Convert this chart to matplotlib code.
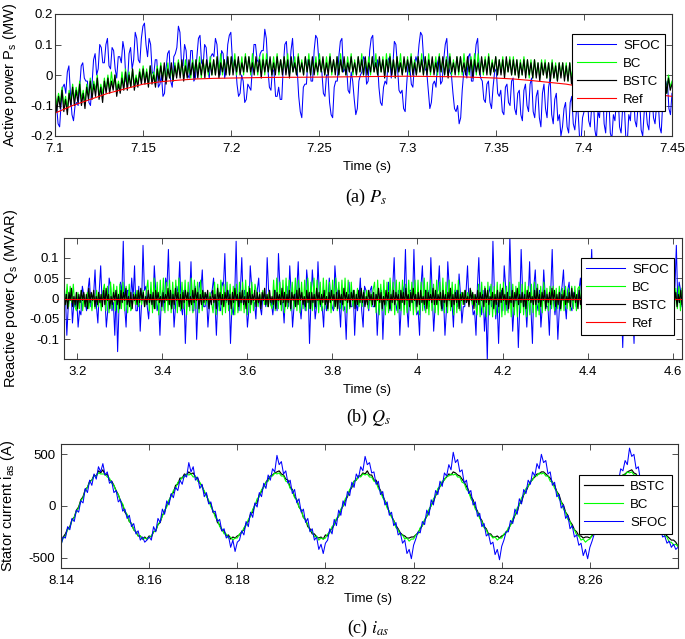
import numpy as np
import matplotlib
matplotlib.use('Agg')
import matplotlib.pyplot as plt

plt.rcParams['font.family'] = ['Liberation Sans', 'DejaVu Sans']
plt.rcParams['mathtext.fontset'] = 'stix'

# ---------------- Panel (a): active power, values in 0.01 MW ----------------
a_sfoc = [-11,-10,-16,-17,-9,-4,-3,-6,1,3,-6,-13,-15,-10,-9,-10,-4,3,4,-1,
          -2,-2,-9,-10,-3,5,7,0,2,10,9,4,4,10,12,3,2,9,8,2,
          -1,6,6,4,11,8,-2,-3,7,9,2,5,14,12,5,4,12,16,17,10,
          6,12,10,1,0,5,5,-4,-3,0,-7,-6,2,7,8,-2,-4,6,7,9,
          16,14,4,3,10,8,0,-1,8,8,-2,-1,6,12,13,4,3,10,9,2,
          -1,6,7,6,12,10,2,0,8,7,-1,2,10,13,14,5,3,4,-3,-7,
          -6,0,-2,-9,-8,-3,-4,-5,3,10,10,5,4,7,8,8,15,12,2,-4,
          -5,2,1,-7,-7,-4,-8,-8,3,10,11,3,0,8,12,3,2,2,-7,-12,
          -14,-4,-3,-3,5,5,-2,-2,8,13,12,5,3,1,-6,-7,0,0,-9,-13,
          -14,-4,-2,-2,6,11,12,1,2,3,-5,-6,1,-2,-8,-13,-11,-2,0,1,
          6,5,-3,-2,8,12,13,3,4,5,-4,-9,-10,-4,-2,-3,5,6,-1,3,
          11,10,3,-5,-6,-5,-11,-12,-3,4,3,-3,-4,3,6,4,10,14,13,5,
          2,1,-5,-11,-9,-3,-2,-4,4,6,-3,-2,5,10,12,3,1,0,-6,-11,
          -12,-10,-16,-14,-5,1,2,-1,6,7,-2,-2,4,10,12,2,-1,-2,-8,-9,
          -3,-2,-9,-11,-4,1,2,-6,-7,-5,-12,-13,-4,-3,-9,-10,-2,-1,-11,-13,
          -6,-5,-13,-15,-5,-3,-10,-12,-3,-1,-12,-14,-7,-5,-14,-17,-6,-3,-11,-14,
          -4,-1,-13,-16,-8,-6,-15,-13,-20,-17,-11,-9,-17,-19,-9,-7,-16,-18,-12,-11,
          -20,-22,-14,-12,-7,-5,-15,-17,-10,-8,-18,-21,-12,-14,-6,-4,-16,-19,-9,-7,
          -19,-21,-13,-15,-8,-6,-17,-19,-11,-9,-20,-22,-13,-15,-7,-5,-15,-17,-10,-8,
          -18,-20,-12,-10,-16,-18,-8,-6,-14,-16,-10,-8,-17,-19,-9,-11,-4,-2,-11,-13,
          -6]
a_bc = [-5,-10,-6,-9,-4,-10,-7,-11,-5,-9,
        -3,-8,-4,-7,-2,-8,-5,-9,-3,-7,
        -1,-6,-2,-5,0,-7,-3,-6,-1,-5,
        0,-5,1,-4,0,-5,-2,-5,1,-4,
        2,-3,1,-4,2,-3,0,-3,2,-2,
        3,-2,2,-3,3,-2,1,-3,3,-1,
        4,-1,3,-2,4,-1,2,-2,4,0,
        5,0,4,-1,5,0,3,-1,5,1,
        5,0,6,-1,5,1,4,0,6,0,
        5,0,6,1,7,0,5,1,6,0,
        6,1,7,0,5,1,6,0,7,1,
        6,0,7,1,5,0,6,1,7,0,
        7,1,5,0,6,1,7,0,5,1,
        6,1,7,0,5,1,6,0,7,1,
        5,0,6,1,7,0,5,1,6,0,
        7,1,5,0,6,1,7,0,5,1,
        6,0,7,1,5,0,6,1,7,0,
        5,0,6,1,7,0,5,1,6,0,
        6,1,7,0,5,1,6,0,7,1,
        7,1,5,0,6,1,7,0,5,1,
        6,0,7,1,5,0,6,1,7,0,
        6,1,7,0,5,1,6,0,7,1,
        5,0,6,1,7,0,5,1,6,0,
        6,0,7,1,5,0,6,1,7,0,
        7,1,5,0,6,1,7,0,5,1,
        6,0,5,1,6,0,5,1,6,0,
        6,0,5,-1,5,0,6,0,5,-1,
        5,-1,5,0,4,-1,5,0,5,-1,
        4,-1,5,-1,4,-2,4,0,4,-1,
        4,-2,4,-1,3,-2,4,-1,4,-2,
        3,-2,3,-3,3,-2,3,-2,3,-3,
        3,-3,2,-3,2,-3,3,-3,2,-3,
        2,-4,2,-4,1,-3,2,-4,1,-4,
        1,-4,1,-5,1,-4,0,-5,1,-4,
        0,-5,1,-5,0,-5,0,-6,0,-4,
        -2]
a_bstc = [-6,-12,-7,-11,-5,-12,-8,-13,-6,-10,
          -4,-10,-5,-9,-3,-10,-6,-11,-4,-8,
          -2,-8,-3,-7,-1,-8,-4,-9,-2,-6,
          -1,-6,-2,-5,0,-7,-3,-6,-1,-5,
          1,-5,0,-4,2,-5,-1,-4,1,-3,
          2,-3,1,-4,3,-3,0,-4,2,-2,
          3,-2,4,-3,2,-1,4,-2,3,-1,
          4,-1,5,-2,3,-1,5,0,4,-1,
          5,-1,4,0,5,-1,5,1,4,0,
          5,0,6,-1,4,1,5,0,6,0,
          6,0,5,1,6,0,4,1,6,1,
          6,1,4,0,6,1,5,-1,5,1,
          5,1,6,0,4,0,6,1,5,0,
          6,0,5,-1,6,1,4,0,6,1,
          4,0,6,1,5,0,6,0,4,1,
          5,1,6,0,4,0,6,1,5,0,
          6,0,5,1,6,0,4,1,6,1,
          4,0,6,1,5,0,6,0,4,1,
          6,1,4,0,6,1,5,-1,5,1,
          6,0,5,-1,6,1,4,0,6,1,
          5,1,6,0,4,0,6,1,5,0,
          6,0,5,1,6,0,4,1,6,1,
          6,0,5,-1,6,1,4,0,6,1,
          6,1,4,0,6,1,5,-1,5,1,
          4,0,6,1,5,0,6,0,4,1,
          6,0,5,0,5,-1,6,1,5,0,
          5,0,5,-1,4,0,5,-1,5,0,
          4,-1,5,-1,4,-2,4,0,4,-1,
          4,-2,4,-1,3,-2,4,-1,4,-2,
          3,-2,4,-3,3,-2,3,-1,3,-3,
          3,-3,2,-3,3,-2,2,-3,3,-2,
          2,-4,2,-3,1,-4,2,-3,2,-4,
          1,-4,2,-5,1,-4,1,-4,0,-5,
          0,-5,1,-5,0,-4,-1,-5,0,-6,
          -1,-6,0,-5,-1,-6,0,-6,-1,-5,
          -3]
a_ref_t = [7.10,7.11,7.12,7.13,7.14,7.15,7.16,7.17,7.18,7.19,7.20,7.22,7.25,
           7.28,7.30,7.33,7.35,7.36,7.37,7.38,7.39,7.40,7.42,7.45]
a_ref = [-0.125,-0.10,-0.08,-0.06,-0.045,-0.03,-0.022,-0.017,-0.013,-0.011,-0.010,
         -0.008,-0.007,-0.005,-0.004,-0.006,-0.010,-0.013,-0.018,-0.024,-0.03,
         -0.04,-0.05,-0.07]

# ---------------- Panel (b): reactive power ----------------
b_sfoc = [-2,1,-9,-2,1,2,-6,-1,-2,0,-7,-3,-4,3,1,-1,-3,2,5,-2,
          0,1,7,-2,-6,2,8,-1,2,0,-7,-3,5,3,-3,-1,-9,2,-13,-2,
          4,1,14,-2,-7,2,2,-1,5,0,8,-3,-3,3,-8,-1,13,2,3,-2,
          -5,1,1,-2,8,2,-3,-1,-9,0,2,-3,5,3,12,-1,-2,2,-7,-2,
          3,1,9,-2,-4,2,-11,-1,2,0,9,-3,-3,3,-10,-1,4,2,7,-2,
          -2,1,-7,-2,1,2,5,-1,-9,0,-2,-3,4,3,11,-1,0,2,-11,-2,
          -4,1,14,-2,-3,2,10,-1,2,0,-7,-3,8,3,-1,-1,-5,2,5,-2,
          -4,1,1,-2,10,2,0,-1,-4,0,2,-3,11,3,-1,-1,-6,2,3,-2,
          8,1,-7,-2,1,2,9,-1,-5,0,0,-3,7,3,-11,-1,7,2,-5,-2,
          9,1,-2,-2,-7,2,-3,-1,5,0,-2,-3,8,3,1,-1,-7,2,-3,-2,
          -10,1,4,-2,-2,2,-9,-1,-3,0,5,-3,-7,3,2,-1,-3,2,3,-2,
          -2,1,-9,-2,1,2,-10,-1,-2,0,4,-3,-1,3,10,-1,-3,2,-9,-2,
          3,1,12,-2,-7,2,2,-1,12,0,-4,-3,-9,3,8,-1,-3,2,2,-2,
          10,1,-8,-2,1,2,8,-1,-3,0,-9,-3,9,3,-2,-1,-7,2,2,-2,
          6,1,-6,-2,-2,2,8,-1,1,0,-4,-3,-9,3,10,-1,-4,2,-8,-2,
          -15,1,3,-2,14,2,-5,-1,-11,0,2,-3,8,3,-3,-1,15,2,-8,-2,
          0,1,-12,-2,12,2,-2,-1,-7,0,9,-3,-11,3,7,-1,-3,2,-7,-2,
          7,1,-2,-2,-9,2,12,-1,-4,0,-10,-3,1,3,7,-1,-5,2,4,-2,
          -3,1,2,-2,-2,2,5,-1,-4,0,7,-3,-6,3,12,-1,-3,2,9,-2,
          -7,1,3,-2,-5,2,6,-1,-9,0,4,-3,-6,3,8,-1,-12,2,2,-2,
          -5,1,7,-2,-11,2,3,-1,-6,0,5,-3,-8,3,4,-1,-4,2,6,-2,
          -3,1,2,-2,-6,2,4,-1,-2,0,7,-3,-3,3,13,-1,4,2,-2]   # units 0.01 MVAR
b_bc = [8,-3,7,-4,6,-2,7,-4,
        -6,3,-5,4,-6,2,-4,3,-5,2,-6,3,-5,4,-4,2,-6,3,
        7,-6,6,-7,8,-5,7,-6,6,-7,7,-5,8,-6,6,-7,7,-6,
        -4,3,-3,4,-4,3,-3,4,-4,3,
        9,-6,8,-7,10,-5,8,-8,9,-6,10,-7,8,-6,9,-7,8,-5,9,-7,10,-6,8,-5,9,-8,8,-6,10,-7,9,-5,8,-7,9,-6,
        3,-3,2,-4,3,-2,
        -7,8,-8,7,-6,9,-8,7,-7,8,-6,7,-8,6,-8,7,-7,8,-6,8,-7,9,-8,6,-7,8,-6,7,
        3,-4,3,-3,4,-3,2,-4,3,-3,
        -5,9,-6,10,-5,8,-6,9,-7,10,-5,9,-6,8,-5,10,-6,9,-7,8,-5,9,-6,10,-5,8,
        -6,10,-5,9,-7,8,-6,10,-5,9,-6,8,-7,9,-5,10,-6,8,-5,9,-6,10,-7,9,-5,8,
        -4,4,-3,5,-4,3,-4,4,-3,4,-5,3,-4,4,
        8,-7,9,-8,7,-6,9,-8,8,-7,10,-6,8,-8,9,-7,8,-6,9,-8,7,-7,9,-6,8,-8,9,-7,
        9,-8,8,-6,10,-7,8,-8,9,-6,7,-7,9,-8,8,-6,10,-7,8,-7,9,-6,8,-8,7,-7,9,-6,
        3,-3,4,-2,3,-3,4,-3,2,-3,
        -8,7,-9,8,-7,6,-9,8,-8,7,-9,6,-8,8,-7,7,-9,8,-8,6,-7,8,
        -9,7,-8,6,-9,8,-7,7,-8,8,-9,6,-8,7,-7,8,-9,7,-8,6,-7,8,
        -6,5,-6,6,-5,6,-6,5,-5,6,-6,5,-6,6,-5,5,-6,6,-5,6,-6,5,
        6,-5,5,-6,7,-5,6,-6,5,-5,7,-6,6,-5,5,-6,6,-5,7,-6,5,-5,6,-6,6,-5,7,-6,5,-5,6,-6,5,
        -6,6,-5,7,-6,5,-5,6,-6,6,-5,7,-5,6,-6,5,-5,6,-6,7,-5,6,-5,5,-6,6,-5,7,-6,5,-5,6,-6,5]   # units 0.005 MVAR
b_bstc = [4,-3,2,-5,3,-1,5,-4,1,-3, 3,-5,2,-2,4,-1,3,-4,2,-5,
          5,-2,3,-1,4,-4,1,-3,3,-2, 2,-4,4,-3,5,-1,2,-5,1,-3,
          3,-1,4,-3,2,-5,4,-2,3,-1, 5,-3,1,-4,3,-5,2,-1,2,-3,
          4,-2,5,-1,3,-4,1,-3,4,-2, 2,-3,3,-5,4,-1,3,-2,1,-4,
          3,-2,2,-1,5,-3,4,-5,2,-3, 5,-1,3,-4,2,-5,3,-2,4,-1,
          3,-4,1,-3,4,-2,5,-1,3,-5, 2,-3,4,-2,3,-1,4,-5,1,-3,
          4,-2,2,-5,5,-1,3,-3,2,-4, 3,-1,4,-3,2,-5,3,-2,5,-1,
          2,-4,3,-2,4,-3,1,-5,3,-2, 5,-3,2,-1,4,-4,3,-2,2,-5,
          3,-1,5,-3,2,-4,4,-2,1,-3, 4,-5,3,-1,2,-3,5,-2,3,-4,
          2,-2,4,-5,3,-1,2,-4,4,-3, 5,-1,3,-3,1,-4,4,-2,3,-5,
          3,-2,2,-4,5,-1,3,-3,2,-2, 4,-3,1,-5,3,-2,4,-1,2,-4,
          3,-5,4,-2,2,-3,5,-1,3,-2, 2,-4,3,-1,4,-5,2,-3,4,-2,
          5,-2,3,-4,1,-3,4,-1,2,-3, 3,-4,2,-1,5,-2,3,-5,1,-3,
          4,-1,3,-5,2,-2,4,-3,3,-1, 2,-5,4,-2,3,-3,5,-1,2,-4,
          3,-2,5,-1,2,-4,3,-3,4,-2, 1,-3,4,-5,3,-1,2,-2,5,-3,
          4,-3,2,-1,3,-5,4,-2,2,-4, 3,-1,5,-4,2,-3,3,-2,4,-5,
          2,-1,3,-3,4,-2,1,-4,5,-1, 3,-5,2,-2,4,-3,3,-1,2,-4,
          5,-2,4,-3,1,-1,3,-5,2,-3, 4,-4,3,-2,5,-1,2,-3,3,-5,
          1,-2,4,-4,3,-1,5,-3,2,-2, 3,-4,2,-5,4,-1,3,-2,1,-3,
          4,-3,5,-2,2,-4,3,-1,4,-5, 2,-2,3,-3,5,-1,4,-4,2,-3,
          3,-5,2,-1,4,-3,1,-2,3,-4, 5,-1,3,-2,2,-5,4,-3,3,-1,
          2,-4,4,-2,3,-1,5,-3,2,-5, 4,-2,1,-4,3,-3,2,-1,5,-2,
          3,-3,4,-5,2,-1,3,-4,4,-2, 5,-3,2,-2,3,-1,4,-5,2,-4,
          1,-3,5,-2,3,-4,2,-1,4,-3, 3,-2,2,-5,4,-1,3,-3,5,-2,
          4,-1,2,-4,3,-2,5,-3,1,-5, 2,-3,4,-1,3,-4,2,-2,4,-3]   # units 0.005 MVAR
b_ref_t = [3.169, 4.622]
b_ref = [0.0, 0.0]

# ---------------- Panel (c): stator current (A) ----------------
c_bstc = [-350,-300,-270,-220,-200,-130,-110,-40,-10,60,90,160,180,240,250,300,290,340,320,350,
          300,310,250,240,200,150,110,50,10,-60,-90,-150,-170,-230,-250,-290,-290,-320,-300,-320,
          -290,-300,-250,-240,-180,-160,-90,-60,10,40,110,130,200,210,270,270,310,300,330,310,
          320,280,270,220,200,130,110,40,20,-60,-80,-160,-180,-240,-240,-290,-280,-320,-300,-310,
          -290,-280,-250,-230,-170,-150,-80,-60,20,30,110,140,190,230,260,290,300,320,330,340,
          310,300,260,250,180,160,90,60,-10,-40,-110,-130,-200,-220,-270,-270,-300,-310,-300,-320,
          -280,-290,-240,-220,-180,-130,-100,-40,0,50,90,150,180,240,250,290,290,320,310,340,
          300,300,250,250,190,150,100,50,0,-60,-100,-140,-190,-220,-260,-280,-290,-310,-310,-300,
          -300,-280,-260,-220,-190,-140,-100,-50,10,40,100,140,190,220,260,280,310,300,330,320,
          300,290,260,230,190,150,90,60,-10,-50,-110,-140,-200,-220,-270,-270,-300,-300,-290,-310,
          -290,-280,-250,-230,-180,-150,-90,-60,20,40,110,140,190,230,260,280,310,310,330,330,
          310,290,270,230,200,140,110,40,10,-60,-90,-150,-180,-230,-250,-290,-290,-310,-300,-300,
          -310,-290,-260,-220,-190,-140,-100,-40,0,60,100,150,190,240,260,300,310,330,340,350,
          320,310,260,250,190,160,100,60,0,-50,-110,-140,-200,-230,-270,-290,-310,-330,-330,-350,
          -390]
c_bc = [-370,-310,-290,-230,-210,-140,-110,-50,-20,50,80,150,180,230,250,290,290,320,310,310,
        310,280,270,220,200,140,110,50,20,-50,-80,-150,-170,-230,-250,-290,-290,-320,-310,-320,
        -300,-290,-250,-240,-180,-150,-100,-40,-10,60,90,150,170,230,240,280,280,310,300,310,
        280,290,240,230,180,150,90,60,-10,-40,-110,-130,-200,-220,-270,-270,-310,-300,-330,-310,
        -310,-270,-260,-210,-190,-130,-100,-30,0,70,90,160,180,230,240,290,290,320,310,320,
        290,290,240,230,170,150,80,60,-10,-40,-110,-140,-180,-240,-250,-300,-290,-330,-310,-320,
        -310,-270,-260,-200,-180,-120,-100,-30,0,70,100,160,190,240,250,290,280,310,300,310,
        280,280,240,230,170,140,80,50,-20,-50,-110,-140,-210,-230,-280,-280,-320,-310,-340,-320,
        -320,-280,-270,-210,-190,-130,-100,-30,0,70,100,170,190,240,250,290,290,310,300,310,
        280,280,230,220,160,140,70,40,-30,-60,-120,-150,-210,-230,-280,-280,-310,-300,-330,-310,
        -310,-270,-260,-210,-190,-120,-90,-20,10,80,110,170,190,240,250,300,290,320,310,320,
        290,290,240,230,170,140,70,40,-30,-60,-130,-150,-210,-230,-280,-290,-330,-320,-350,-330,
        -320,-280,-270,-210,-190,-120,-90,-20,10,80,110,180,200,250,260,300,300,330,320,330,
        300,300,250,240,180,150,80,50,-30,-60,-130,-160,-220,-240,-290,-300,-350,-350,-380,-370,
        -390]
c_sfoc = [-380,-300,-310,-200,-230,-120,-150,-40,-60,50,30,170,130,250,200,310,260,380,330,410,
          300,330,220,240,130,150,40,60,-50,-30,-120,-90,-200,-170,-270,-240,-330,-300,-350,-330,
          -300,-330,-200,-250,-120,-160,-30,-80,50,10,120,80,180,150,250,210,300,280,420,330,
          380,250,280,170,210,90,130,20,40,-60,-50,-150,-130,-240,-220,-310,-290,-400,-330,-440,
          -350,-330,-240,-280,-150,-200,-60,-110,30,-10,130,90,220,170,300,250,360,330,490,400,
          430,310,340,220,250,120,160,30,70,-60,-30,-160,-120,-250,-220,-330,-300,-420,-370,-460,
          -360,-330,-220,-270,-130,-190,-40,-90,50,0,140,100,230,180,310,270,380,340,480,400,
          420,320,330,210,240,110,140,10,40,-90,-60,-190,-160,-280,-260,-360,-330,-460,-420,-510,
          -380,-320,-250,-260,-150,-180,-40,-90,60,10,150,110,240,190,320,290,400,350,520,420,
          450,330,350,220,250,120,150,10,40,-100,-70,-200,-170,-290,-270,-370,-350,-470,-420,-520,
          -390,-330,-250,-250,-140,-170,-30,-80,70,20,160,120,250,210,330,290,410,360,500,420,
          440,310,330,200,230,90,110,-20,10,-120,-90,-220,-190,-300,-280,-380,-360,-480,-420,-510,
          -400,-340,-270,-270,-160,-180,-50,-80,60,30,160,130,260,240,360,340,440,400,560,480,
          500,360,380,240,260,120,140,0,30,-120,-90,-230,-200,-300,-290,-360,-340,-400,-370,-420,
          -400]

a_xticks = [7.1, 7.15, 7.2, 7.25, 7.3, 7.35, 7.4, 7.45]
a_xlabels = ['7.1', '7.15', '7.2', '7.25', '7.3', '7.35', '7.4', '7.45']
a_yticks = [-0.2, -0.1, 0, 0.1, 0.2]
a_ylabels = ['-0.2', '-0.1', '0', '0.1', '0.2']
b_xticks = [3.2, 3.4, 3.6, 3.8, 4.0, 4.2, 4.4, 4.6]
b_xlabels = ['3.2', '3.4', '3.6', '3.8', '4', '4.2', '4.4', '4.6']
b_yticks = [-0.1, -0.05, 0, 0.05, 0.1]
b_ylabels = ['-0.1', '-0.05', '0', '0.05', '0.1']
c_xticks = [8.14, 8.16, 8.18, 8.20, 8.22, 8.24, 8.26]
c_xlabels = ['8.14', '8.16', '8.18', '8.2', '8.22', '8.24', '8.26']
c_yticks = [-500, 0, 500]
c_ylabels = ['-500', '0', '500']

BLUE = '#0000ff'
GREEN = '#00ff00'
BLACK = '#000000'
RED = '#ff0000'
LW_B = 0.75   # blue
LW_G = 0.8    # green
LW_K = 0.85   # black

fig = plt.figure(figsize=(6.85, 6.39), dpi=100)
W, H = 685.0, 639.0


def add_axes(l, t, r, b):
    return fig.add_axes([l / W, 1 - b / H, (r - l) / W, (b - t) / H])


def style(ax, xlim, ylim, xt, xl, yt, yl, ypad):
    ax.set_xlim(*xlim)
    ax.set_ylim(*ylim)
    ax.set_xticks(xt)
    ax.set_xticklabels(xl)
    ax.set_yticks(yt)
    ax.set_yticklabels(yl)
    ax.tick_params(direction='in', top=True, right=True, length=4, width=0.6,
                   labelsize=9.5, color='#333333')
    ax.tick_params(axis='x', pad=5)
    ax.tick_params(axis='y', pad=ypad)
    for s in ax.spines.values():
        s.set_linewidth(0.8)
        s.set_color('#333333')


def legend(ax, anchor):
    lg = ax.legend(loc='upper right', bbox_to_anchor=anchor,
                   bbox_transform=fig.transFigure, borderaxespad=0,
                   fontsize=9.5, handlelength=3.0, handletextpad=0.5,
                   labelspacing=0.45, fancybox=False, framealpha=1,
                   edgecolor='black')
    lg.get_frame().set_linewidth(0.8)


# Panel (a)
ax1 = add_axes(55, 14, 672, 136)
ax1.plot(np.linspace(7.1, 7.45, len(a_sfoc)), np.array(a_sfoc) * 0.01, color=BLUE, lw=LW_B, label='SFOC')
ax1.plot(np.linspace(7.1, 7.45, len(a_bc)), np.array(a_bc) * 0.01, color=GREEN, lw=LW_G, label='BC')
ax1.plot(np.linspace(7.1, 7.45, len(a_bstc)), np.array(a_bstc) * 0.01, color=BLACK, lw=LW_K, label='BSTC')
ax1.plot(a_ref_t, a_ref, color=RED, lw=0.8, label='Ref')
style(ax1, (7.1, 7.45), (-0.2, 0.2), a_xticks, a_xlabels, a_yticks, a_ylabels, 1.5)
ax1.set_xlabel('Time (s)', fontsize=9.5, va='center')
ax1.xaxis.set_label_coords(0.506, -0.254)
ax1.set_ylabel(r'Active power P$_\mathregular{s}$ (MW)', fontsize=10.5, va='center')
ax1.yaxis.set_label_coords(-0.073, 0.5)
legend(ax1, (665 / W, 1 - 34 / H))
fig.text(366 / W, 1 - 197 / H, r'(a) $P_s$', family='Liberation Serif', fontsize=13,
         ha='center', va='center')

# Panel (b)
ax2 = add_axes(64, 238, 682, 359)
ax2.plot(np.linspace(3.169, 4.622, len(b_sfoc)), np.array(b_sfoc) * 0.01, color=BLUE, lw=LW_B, label='SFOC')
ax2.plot(np.linspace(3.169, 4.622, len(b_bc)), np.array(b_bc) * 0.005, color=GREEN, lw=LW_G, label='BC')
ax2.plot(np.linspace(3.169, 4.622, len(b_bstc)), np.array(b_bstc) * 0.005, color=BLACK, lw=LW_K, label='BSTC')
ax2.plot(b_ref_t, b_ref, color=RED, lw=0.8, label='Ref')
style(ax2, (3.169, 4.622), (-0.148, 0.148), b_xticks, b_xlabels, b_yticks, b_ylabels, 3.5)
ax2.set_xlabel('Time (s)', fontsize=9.5, va='center')
ax2.xaxis.set_label_coords(0.491, -0.256)
ax2.set_ylabel(r'Reactive power Q$_\mathregular{s}$ (MVAR)', fontsize=10.5, va='center')
ax2.yaxis.set_label_coords(-0.086, 0.5)
legend(ax2, (674 / W, 1 - 258 / H))
fig.text(369 / W, 1 - 417 / H, r'(b) $Q_s$', family='Liberation Serif', fontsize=13,
         ha='center', va='center')

# Panel (c)
ax3 = add_axes(61, 444, 678, 568)
ax3.plot(np.linspace(8.14, 8.28, len(c_bstc)), c_bstc, color=BLACK, lw=LW_K, label='BSTC')
ax3.plot(np.linspace(8.14, 8.28, len(c_bc)), c_bc, color=GREEN, lw=LW_G, label='BC')
ax3.plot(np.linspace(8.14, 8.28, len(c_sfoc)), c_sfoc, color=BLUE, lw=LW_B, label='SFOC')
style(ax3, (8.14, 8.28), (-600, 600), c_xticks, c_xlabels, c_yticks, c_ylabels, 4)
ax3.set_xlabel('Time (s)', fontsize=9.5, va='center')
ax3.xaxis.set_label_coords(0.497, -0.25)
ax3.set_ylabel(r'Stator current i$_\mathregular{as}$ (A)', fontsize=10.5, va='center')
ax3.yaxis.set_label_coords(-0.086, 0.5)
legend(ax3, (672 / W, 1 - 475 / H))
fig.text(368 / W, 1 - 628 / H, r'(c) $i_{as}$', family='Liberation Serif', fontsize=13,
         ha='center', va='center')

fig.savefig('out.png', dpi=100)
